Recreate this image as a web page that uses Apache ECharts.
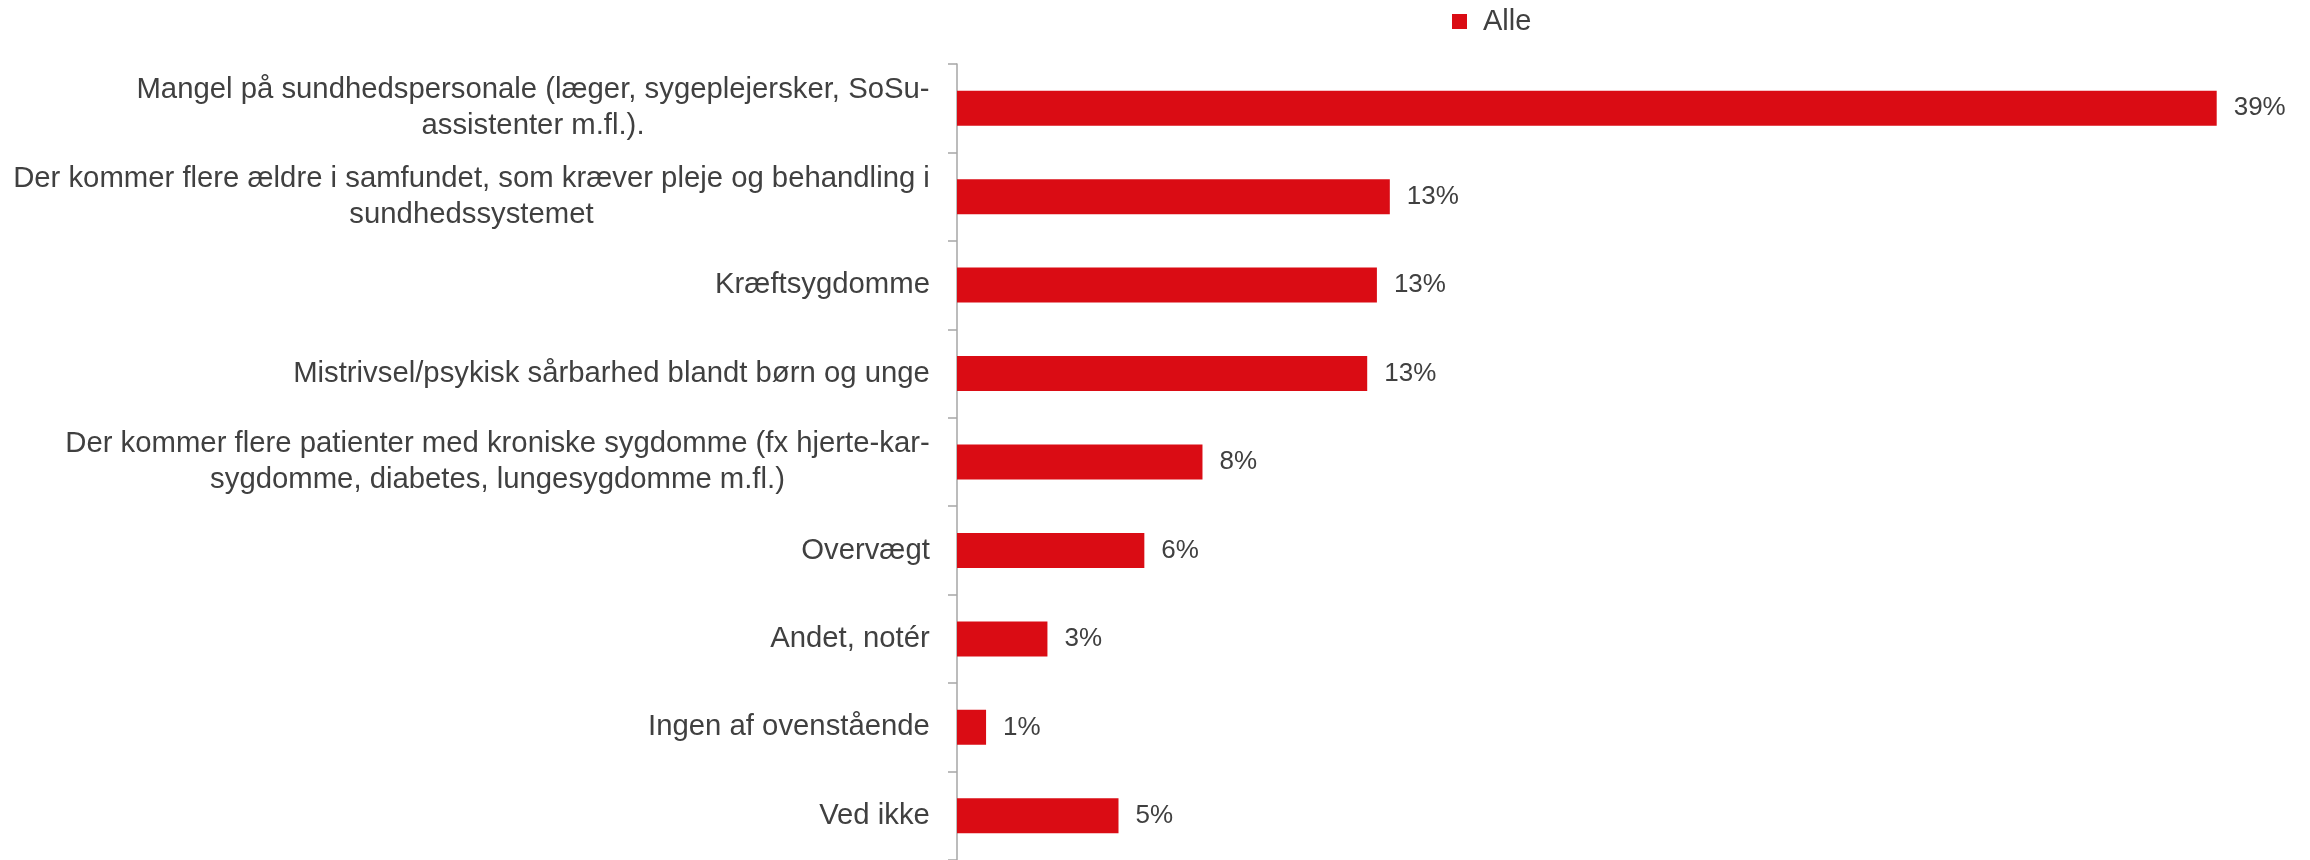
<!DOCTYPE html>
<html>
<head>
<meta charset="utf-8">
<script src="https://cdn.jsdelivr.net/npm/echarts@6/dist/echarts.min.js"></script>
<style>
html,body{margin:0;padding:0;background:#fff;}
#chart{width:2310px;height:860px;}
</style>
</head>
<body>
<div id="chart"></div>
<script>
const categories = [
  "Mangel på sundhedspersonale (læger, sygeplejersker, SoSu-\nassistenter m.fl.).",
  "Der kommer flere ældre i samfundet, som kræver pleje og behandling i\nsundhedssystemet",
  "Kræftsygdomme",
  "Mistrivsel/psykisk sårbarhed blandt børn og unge",
  "Der kommer flere patienter med kroniske sygdomme (fx hjerte-kar-\nsygdomme, diabetes, lungesygdomme m.fl.)",
  "Overvægt",
  "Andet, notér",
  "Ingen af ovenstående",
  "Ved ikke"
];
const seriesName = "Alle";
const values = [39.0, 13.4, 13.0, 12.7, 7.6, 5.8, 2.8, 0.9, 5.0];

const FONT = '"Liberation Sans", Arial, sans-serif';
const LABEL_SIZE = 29.3;
const TEXT_COLOR = '#404040';

const cv = document.createElement('canvas').getContext('2d');
cv.font = LABEL_SIZE + 'px ' + FONT;
const rich = {};
categories.forEach((c, i) => {
  const lines = c.split('\n');
  const w = Math.max(...lines.map(l => cv.measureText(l).width));
  rich['c' + i] = {
    width: Math.ceil(w) + 2,
    align: 'center',
    fontSize: LABEL_SIZE,
    lineHeight: 36,
    fontFamily: FONT,
    color: TEXT_COLOR
  };
});

const chart = echarts.init(document.getElementById('chart'));
chart.setOption({
  backgroundColor: '#ffffff',
  animation: false,
  legend: {
    data: [seriesName],
    left: 1447,
    top: 2,
    icon: 'rect',
    itemWidth: 15,
    itemHeight: 15,
    textStyle: { fontSize: 29, fontFamily: FONT, color: TEXT_COLOR, padding: [0, 0, 0, 11], lineHeight: 28 }
  },
  grid: { left: 957, top: 64, width: 1292, height: 798, containLabel: false },
  xAxis: {
    type: 'value',
    min: 0,
    max: 40,
    show: false,
    splitLine: { show: false }
  },
  yAxis: {
    type: 'category',
    data: categories,
    inverse: true,
    axisLine: { show: true, lineStyle: { color: '#a6a6a6', width: 1.5 } },
    axisTick: { show: true, length: 9, lineStyle: { color: '#a6a6a6', width: 1.5 } },
    axisLabel: {
      margin: 26,
      formatter: (v, i) => v.split('\n').map(l => '{c' + i + '|' + l + '}').join('\n'),
      rich: rich
    }
  },
  series: [{
    name: seriesName,
    type: 'bar',
    data: values,
    barWidth: 35,
    itemStyle: { color: '#DA0C14' },
    label: {
      show: true,
      position: 'right',
      distance: 17,
      fontSize: 26,
      fontFamily: FONT,
      color: TEXT_COLOR,
      formatter: p => Math.round(p.value) + '%'
    }
  }]
});
</script>
</body>
</html>
